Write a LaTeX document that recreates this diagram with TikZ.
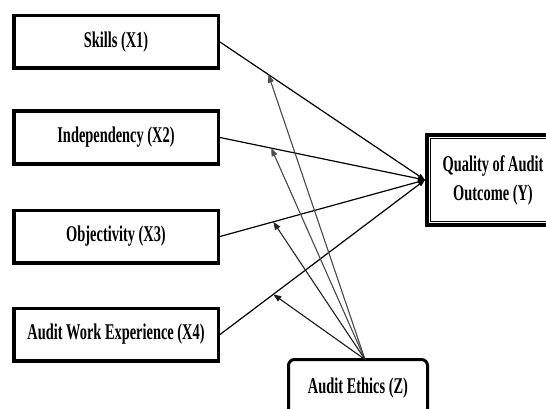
\documentclass[tikz,border=0pt]{standalone}
\usepackage{fontspec}
\setmainfont{Liberation Serif}[FakeStretch=0.64]
\usetikzlibrary{arrows.meta,calc}
\begin{document}
\begin{tikzpicture}[x=1pt,y=-1pt,
  xbox/.style={draw=black,line width=3.5pt,fill=white,minimum width=204.5pt,minimum height=52.5pt,inner sep=0pt,font=\fontsize{22.5}{26}\selectfont\bfseries},
  ybox/.style={draw=black,line width=4pt,fill=white,minimum width=132pt,minimum height=90pt,inner sep=0pt,align=center,font=\fontsize{22.5}{29}\selectfont\bfseries},
  zbox/.style={draw=black,line width=3pt,fill=white,rounded corners=6pt,minimum width=139pt,minimum height=57pt,inner sep=0pt,font=\fontsize{22.5}{26}\selectfont\bfseries},
  link/.style={draw=black,line width=1.2pt,-{Triangle[length=7pt,width=5pt]}},
  mod/.style={line width=1.1pt,-{Triangle[length=8pt,width=6pt]}}]
\useasboundingbox (0,0) rectangle (546,409);
\clip (0,0) rectangle (546,409);
\fill[white] (0,0) rectangle (546,409);
\node[xbox] (x1) at (116,42) {Skills (X1)};
\node[xbox] (x2) at (116,137.5) {Independency (X2)};
\node[xbox] (x3) at (116,236.5) {Objectivity (X3)};
\node[xbox] (x4) at (116,334.5) {Audit Work Experience (X4)};
\node[ybox] (y) at (493,180) {Quality of Audit\\Outcome (Y)};
\draw[line width=0.9pt] ($(y.north west)+(5.5,5.5)$) rectangle ($(y.south east)+(-5.5,-5.5)$);
\node[zbox] (z) at (358,388) {Audit Ethics (Z)};
\coordinate (zs) at ([xshift=7pt,yshift=-1.5pt]z.north);
\path[link] (x1.east) -- coordinate[pos=0.236] (m1) (y.west);
\path[link] (x2.east) -- coordinate[pos=0.25] (m2) (y.west);
\path[link] (x3.east) -- coordinate[pos=0.26] (m3) (y.west);
\path[link] (x4.east) -- coordinate[pos=0.26] (m4) (y.west);
\draw[mod,draw=gray!60!black,fill=black] (zs) -- (m1);
\draw[mod,draw=gray!60!black,fill=black] (zs) -- (m2);
\draw[mod,draw=gray!30!black,fill=black] (zs) -- (m3);
\draw[mod,draw=black!90] (zs) -- (m4);
\end{tikzpicture}
\end{document}
